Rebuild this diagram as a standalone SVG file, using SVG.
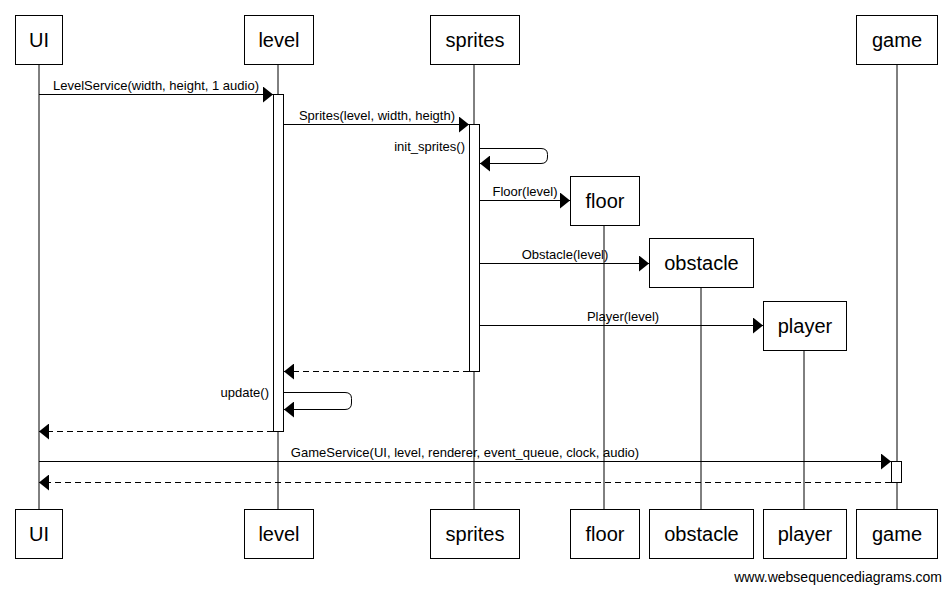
<svg xmlns="http://www.w3.org/2000/svg" width="951" height="593" viewBox="0 0 951 593">
<defs>
<marker id="ah" viewBox="0 0 10 16" refX="10" refY="8" markerWidth="10" markerHeight="16" markerUnits="userSpaceOnUse" orient="auto">
<path d="M0,0 L10,8 L0,16 Z" fill="#000"/>
</marker>
</defs>
<style>
.box{fill:#fff;stroke:#000;stroke-width:1}
.pl{font-family:"Liberation Sans",Arial,sans-serif;font-size:20px;text-anchor:middle;fill:#000}
.ml{font-family:"Liberation Sans",Arial,sans-serif;font-size:13px;text-anchor:middle;fill:#000}
.mr{font-family:"Liberation Sans",Arial,sans-serif;font-size:13px;text-anchor:end;fill:#000}
.life{stroke:#000;stroke-width:1;fill:none}
.msg{stroke:#000;stroke-width:1;fill:none;marker-end:url(#ah)}
.ret{stroke:#000;stroke-width:1;fill:none;stroke-dasharray:6,4;marker-end:url(#ah)}
.act{fill:#fff;stroke:#000;stroke-width:1}
</style>
<rect width="951" height="593" fill="#fff"/>
<g id="lifelines">
<line class="life" x1="39" y1="64" x2="39" y2="509"/>
<line class="life" x1="278" y1="64" x2="278" y2="509"/>
<line class="life" x1="474" y1="64" x2="474" y2="509"/>
<line class="life" x1="604" y1="225" x2="604" y2="509"/>
<line class="life" x1="701" y1="287" x2="701" y2="509"/>
<line class="life" x1="804" y1="350" x2="804" y2="509"/>
<line class="life" x1="897" y1="64" x2="897" y2="509"/>
</g>
<g id="activations">
<rect class="act" x="273.5" y="94.5" width="10" height="337"/>
<rect class="act" x="469.5" y="124.5" width="10" height="247"/>
<rect class="act" x="891.5" y="461.5" width="10" height="21"/>
</g>
<g id="UI">
<rect class="box" x="15.5" y="15.5" width="47" height="49"/><text class="pl" x="39" y="47">UI</text>
<rect class="box" x="15.5" y="509.5" width="47" height="49"/><text class="pl" x="39" y="541">UI</text>
</g>
<g id="level">
<rect class="box" x="244.5" y="15.5" width="69" height="49"/><text class="pl" x="279" y="47">level</text>
<rect class="box" x="244.5" y="509.5" width="69" height="49"/><text class="pl" x="279" y="541">level</text>
</g>
<g id="sprites">
<rect class="box" x="430.5" y="15.5" width="89" height="49"/><text class="pl" x="475" y="47">sprites</text>
<rect class="box" x="430.5" y="509.5" width="89" height="49"/><text class="pl" x="475" y="541">sprites</text>
</g>
<g id="floor">
<rect class="box" x="570.5" y="176.5" width="69" height="49"/><text class="pl" x="605" y="208">floor</text>
<rect class="box" x="570.5" y="509.5" width="69" height="49"/><text class="pl" x="605" y="541">floor</text>
</g>
<g id="obstacle">
<rect class="box" x="649.5" y="238.5" width="104" height="49"/><text class="pl" x="701.5" y="270">obstacle</text>
<rect class="box" x="649.5" y="509.5" width="104" height="49"/><text class="pl" x="701.5" y="541">obstacle</text>
</g>
<g id="player">
<rect class="box" x="763.5" y="301.5" width="83" height="49"/><text class="pl" x="805" y="333">player</text>
<rect class="box" x="763.5" y="509.5" width="83" height="49"/><text class="pl" x="805" y="541">player</text>
</g>
<g id="game">
<rect class="box" x="856.5" y="15.5" width="81" height="49"/><text class="pl" x="897" y="47">game</text>
<rect class="box" x="856.5" y="509.5" width="81" height="49"/><text class="pl" x="897" y="541">game</text>
</g>
<g id="connectors">
<line class="msg" x1="39" y1="94.5" x2="273" y2="94.5"/>
<text class="ml" x="156" y="90">LevelService(width, height, 1 audio)</text>
<line class="msg" x1="284" y1="124.5" x2="469" y2="124.5"/>
<text class="ml" x="377" y="120">Sprites(level, width, heigth)</text>
<path class="msg" d="M480,148.5 H541 Q547.5,148.5 547.5,154.5 V157 Q547.5,163.5 541,163.5 H480"/>
<text class="mr" x="465" y="151">init_sprites()</text>
<line class="msg" x1="480" y1="200.5" x2="570" y2="200.5"/>
<text class="ml" x="525" y="196">Floor(level)</text>
<line class="msg" x1="480" y1="263.5" x2="649" y2="263.5"/>
<text class="ml" x="565" y="259">Obstacle(level)</text>
<line class="msg" x1="480" y1="325.5" x2="763" y2="325.5"/>
<text class="ml" x="623" y="321">Player(level)</text>
<line class="ret" x1="469" y1="371.5" x2="284" y2="371.5"/>
<path class="msg" d="M284,392.5 H345 Q351.5,392.5 351.5,398.5 V403 Q351.5,409.5 345,409.5 H284"/>
<text class="mr" x="269" y="397">update()</text>
<line class="ret" x1="273" y1="431.5" x2="39" y2="431.5"/>
<line class="msg" x1="39" y1="461.5" x2="891" y2="461.5"/>
<text class="ml" x="465" y="457">GameService(UI, level, renderer, event_queue, clock, audio)</text>
<line class="ret" x1="891" y1="482.5" x2="39" y2="482.5"/>
</g>
<text class="mr" x="942" y="582" style="font-size:14px">www.websequencediagrams.com</text>
</svg>
